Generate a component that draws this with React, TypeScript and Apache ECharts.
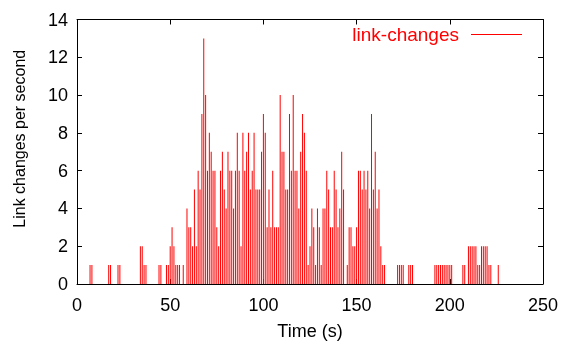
import React, { useEffect, useRef } from "react";
import * as echarts from "echarts";

const seconds = [
  7, 8, 17, 18, 22, 23, 34, 35, 36, 37, 44, 45, 48, 49, 50, 51, 52, 53, 54, 55, 57, 59, 60, 61, 62, 63, 64, 65, 66, 67,
  68, 69, 70, 71, 72, 73, 74, 75, 76, 77, 78, 79, 80, 81, 82, 83, 84, 85, 86, 87, 88, 89, 90, 91, 92, 93, 94, 95, 96,
  97, 98, 99, 100, 101, 102, 103, 104, 105, 106, 107, 108, 109, 110, 111, 112, 113, 114, 115, 116, 117, 118, 119,
  120, 121, 122, 123, 124, 125, 126, 127, 128, 129, 130, 131, 132, 133, 134, 135, 136, 137, 138, 139, 140, 141, 142,
  143, 145, 146, 147, 148, 149, 150, 151, 152, 153, 154, 155, 156, 157, 158, 159, 160, 161, 162, 163, 164, 165, 172,
  173, 174, 175, 178, 179, 180, 192, 193, 194, 195, 196, 197, 198, 199, 200, 201, 207, 208, 210, 211, 212, 213, 214,
  215, 216, 217, 218, 219, 220, 221, 222, 226, 227,
];
const changes = [
  1, 1, 1, 1, 1, 1, 2, 2, 1, 1, 1, 1, 1, 1, 2, 3, 2, 1, 1, 1, 1, 4, 3, 3, 2, 5, 2, 6, 5, 9,
  13, 10, 6, 8, 7, 6, 6, 3, 2, 6, 7, 5, 4, 7, 6, 6, 4, 6, 8, 6, 2, 8, 6, 7, 8, 5, 6, 8, 5,
  5, 5, 7, 9, 8, 3, 5, 3, 6, 3, 3, 3, 10, 7, 7, 5, 5, 9, 6, 10, 6, 6, 4,
  7, 9, 8, 6, 1, 2, 4, 3, 1, 4, 3, 1, 4, 4, 6, 5, 3, 3, 6, 5, 3, 4, 7,
  5, 1, 3, 3, 2, 2, 3, 6, 6, 5, 6, 5, 6, 4, 9, 5, 7, 4, 5, 2, 1, 1, 1,
  1, 1, 1, 1, 1, 1, 1, 1, 1, 1, 1, 1, 1, 1, 1, 1, 1, 1, 2, 2, 2, 2,
  2, 1, 1, 2, 2, 2, 2, 1, 1, 1,
];

const xTicks = { min: 0, max: 250, interval: 50 };
const yTicks = { min: 0, max: 14, interval: 2 };

const FONT = "Liberation Sans, Arial, sans-serif";

export default function App() {
  const ref = useRef<HTMLDivElement>(null);
  useEffect(() => {
    if (!ref.current) return;
    const chart = echarts.init(ref.current, undefined, { renderer: "svg" });
    const data = seconds.map((s, i) => [s, changes[i]]);
    const axisLine = { show: true, onZero: false, lineStyle: { color: "#000", width: 1 } };
    const tick = { show: true, inside: true, length: 5, lineStyle: { color: "#000", width: 1 } };
    chart.setOption({
      animation: false,
      grid: { left: 77, right: 19, top: 19.5, bottom: 56.5, containLabel: false },
      legend: {
        data: ["link-changes"],
        right: 40,
        top: 25,
        align: "right",
        icon: "rect",
        itemWidth: 51,
        itemHeight: 1,
        padding: 0,
        textStyle: { color: "#ff0000", fontSize: 19, fontFamily: FONT, padding: [0, 7, 0, 0] },
      },
      xAxis: [
        {
          type: "value",
          position: "bottom",
          ...xTicks,
          axisLine,
          axisTick: tick,
          splitLine: { show: false },
          axisLabel: { color: "#000", fontSize: 18, fontFamily: FONT, margin: 12 },
          name: "Time (s)",
          nameLocation: "middle",
          nameGap: 38,
          nameTextStyle: { color: "#000", fontSize: 18, fontFamily: FONT },
        },
        {
          type: "value",
          position: "top",
          ...xTicks,
          axisLine,
          axisTick: tick,
          splitLine: { show: false },
          axisLabel: { show: false },
        },
      ],
      yAxis: [
        {
          type: "value",
          position: "left",
          ...yTicks,
          axisLine,
          axisTick: tick,
          splitLine: { show: false },
          axisLabel: { color: "#000", fontSize: 18, fontFamily: FONT, margin: 9 },
          name: "Link changes per second",
          nameLocation: "middle",
          nameGap: 50,
          nameTextStyle: { color: "#000", fontSize: 16, fontFamily: FONT, padding: [0, 0, 0, 26] },
        },
        {
          type: "value",
          position: "right",
          ...yTicks,
          axisLine,
          axisTick: tick,
          splitLine: { show: false },
          axisLabel: { show: false },
        },
      ],
      series: [
        {
          name: "link-changes",
          type: "bar",
          xAxisIndex: 0,
          yAxisIndex: 0,
          barWidth: 1,
          itemStyle: { color: "#ff0000" },
          data,
        },
      ],
    });
    return () => chart.dispose();
  }, []);
  return <div ref={ref} style={{ position: "fixed", left: 0, top: 0, width: 562, height: 345 }} />;
}
